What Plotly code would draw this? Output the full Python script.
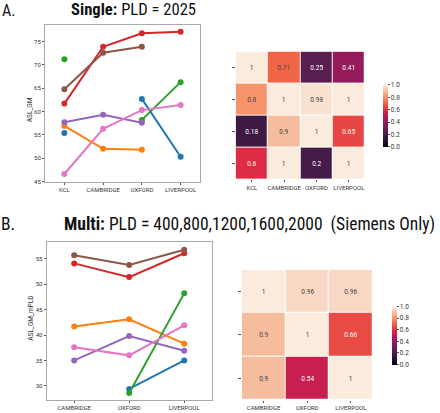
import plotly.graph_objects as go

# ---------- data ----------
sites_a = ["KCL", "CAMBRIDGE", "OXFORD", "LIVERPOOL"]
series_names = ["s1", "s2", "s3", "s4", "s5", "s6", "s7"]
colors = ["#1f77b4", "#ff7f0e", "#2ca02c", "#d62728", "#9467bd", "#8c564b", "#e377c2"]

single_vals = [
    [55.4, None, 62.7, 50.3],
    [56.9, 52.0, 51.8, None],
    [71.2, None, 58.2, 66.3],
    [61.7, 73.9, 76.8, 77.1],
    [57.7, 59.3, 57.6, None],
    [64.8, 72.6, 73.9, None],
    [46.6, 56.3, 60.3, 61.4],
]

corr_a = [
    [1, 0.71, 0.25, 0.41],
    [0.8, 1, 0.98, 1],
    [0.18, 0.9, 1, 0.65],
    [0.6, 1, 0.2, 1],
]

sites_b = ["CAMBRIDGE", "OXFORD", "LIVERPOOL"]
multi_vals = [
    [None, 29.4, 35.0],
    [41.7, 43.1, 38.3],
    [None, 28.6, 48.2],
    [54.1, 51.4, 56.1],
    [35.0, 39.8, 36.9],
    [55.7, 53.8, 56.8],
    [37.6, 36.0, 41.9],
]

corr_b = [
    [1, 0.96, 0.96],
    [0.9, 1, 0.66],
    [0.9, 0.54, 1],
]

rocket = [
    [0.0, "#03051A"], [0.1, "#221331"], [0.2, "#451C47"], [0.3, "#6A1F56"],
    [0.4, "#921C5B"], [0.5, "#B91657"], [0.6, "#DD2C45"], [0.7, "#F06043"],
    [0.8, "#F5936A"], [0.9, "#F6BC9E"], [1.0, "#FAEBDD"],
]

W, H = 440, 413
def px(x): return x / W
def py(y): return 1 - y / H

fig = go.Figure()

# ---------- top line plot ----------
for name, col, vals in zip(series_names, colors, single_vals):
    fig.add_trace(go.Scatter(x=sites_a, y=vals, mode="lines+markers", name=name,
                             line=dict(color=col, width=2), marker=dict(color=col, size=6),
                             connectgaps=False, showlegend=False, xaxis="x", yaxis="y"))

cb_common = dict(xanchor="left", yanchor="bottom", lenmode="fraction", thickness=5,
                 outlinewidth=0, tickvals=[0, 0.2, 0.4, 0.6, 0.8, 1.0],
                 ticktext=["0.0", "0.2", "0.4", "0.6", "0.8", "1.0"],
                 ticks="outside", ticklen=2, tickcolor="#555", tickfont=dict(size=6.5, color="#333"))

# ---------- top heatmap ----------
fig.add_trace(go.Heatmap(z=corr_a, x=sites_a, y=[0, 1, 2, 3], colorscale=rocket, zmin=0, zmax=1,
                         xgap=1, ygap=1, texttemplate="%{z}", textfont=dict(size=6.5),
                         xaxis="x2", yaxis="y2",
                         colorbar=dict(x=px(373), y=py(158), len=(158 - 75) / H, **cb_common)))

# ---------- bottom line plot ----------
for name, col, vals in zip(series_names, colors, multi_vals):
    fig.add_trace(go.Scatter(x=sites_b, y=vals, mode="lines+markers", name=name,
                             line=dict(color=col, width=2), marker=dict(color=col, size=6),
                             connectgaps=False, showlegend=False, xaxis="x3", yaxis="y3"))

# ---------- bottom heatmap ----------
fig.add_trace(go.Heatmap(z=corr_b, x=sites_b, y=[0, 1, 2], colorscale=rocket, zmin=0, zmax=1,
                         xgap=1, ygap=1, texttemplate="%{z}", textfont=dict(size=6.5),
                         xaxis="x4", yaxis="y4",
                         colorbar=dict(x=px(381.7), y=py(377.3), len=(377.3 - 298.3) / H, **cb_common)))

tickfont = dict(size=6, color="#333")
frame = dict(showline=True, linecolor="#aaa", linewidth=1, mirror=True, showgrid=False,
             zeroline=False, ticks="outside", ticklen=2, tickcolor="#555", tickfont=tickfont)
hm_x = dict(showgrid=False, zeroline=False, ticks="outside", ticklen=2, tickcolor="#555",
            tickfont=tickfont, showline=False, tickangle=0)
hm_y = dict(autorange="reversed", showgrid=False, zeroline=False, ticks="outside", ticklen=3,
            tickcolor="#555", showline=False)

fig.update_layout(
    width=W, height=H, margin=dict(l=0, r=0, t=0, b=0),
    paper_bgcolor="white", plot_bgcolor="white",
    font=dict(family="Roboto, sans-serif"),
    xaxis=dict(domain=[px(45), px(200)], anchor="y", range=[-0.5, 3.5], tickangle=0, **frame),
    yaxis=dict(domain=[py(183), py(25)], anchor="x", range=[44.95, 78.6],
               tickvals=[45, 50, 55, 60, 65, 70, 75], **frame),
    xaxis2=dict(domain=[px(235.7), px(365)], anchor="y2", **hm_x),
    yaxis2=dict(domain=[py(180.7), py(52)], anchor="x2",
                tickvals=[0, 1, 2, 3], ticktext=["", "", "", ""], **hm_y),
    xaxis3=dict(domain=[px(46.7), px(211.7)], anchor="y3", range=[-0.5, 2.5], tickangle=0, **frame),
    yaxis3=dict(domain=[py(403), py(243.3)], anchor="x3", range=[27.2, 58.4],
                tickvals=[30, 35, 40, 45, 50, 55], **frame),
    xaxis4=dict(domain=[px(241.7), px(372.7)], anchor="y4", **hm_x),
    yaxis4=dict(domain=[py(403), py(271.7)], anchor="x4",
                tickvals=[0, 1, 2], ticktext=["", "", ""], **hm_y),
)

# axis titles
fig.add_annotation(x=px(30), y=py(110), xref="paper", yref="paper", xanchor="center", yanchor="middle",
                   text="ASL_GM", textangle=-90, showarrow=False, font=dict(size=6.5, color="#333"))
fig.add_annotation(x=px(31), y=py(320), xref="paper", yref="paper", xanchor="center", yanchor="middle",
                   text="ASL_GM_mPLD", textangle=-90, showarrow=False, font=dict(size=6.5, color="#333"))

title_font = "Roboto Condensed, DejaVu Sans Condensed, Arial Narrow, Roboto, sans-serif"
fig.add_annotation(x=px(0), y=py(11), xref="paper", yref="paper", xanchor="left", yanchor="middle",
                   text="A.", showarrow=False, font=dict(size=16, color="#111", family=title_font))
fig.add_annotation(x=px(69), y=py(10), xref="paper", yref="paper", xanchor="left", yanchor="middle",
                   text="<b>Single:</b> PLD = 2025", showarrow=False,
                   font=dict(size=16.6, color="#111", family=title_font))
fig.add_annotation(x=px(-1), y=py(226), xref="paper", yref="paper", xanchor="left", yanchor="middle",
                   text="B.", showarrow=False, font=dict(size=17.5, color="#111", family=title_font))
fig.add_annotation(x=px(62), y=py(226), xref="paper", yref="paper", xanchor="left", yanchor="middle",
                   text="<b>Multi:</b> PLD = 400,800,1200,1600,2000  (Siemens Only)", showarrow=False,
                   font=dict(size=17.5, color="#111", family=title_font))

fig.write_html("out.html", config={"displayModeBar": False},
               post_script="document.body.style.margin='0px';")
